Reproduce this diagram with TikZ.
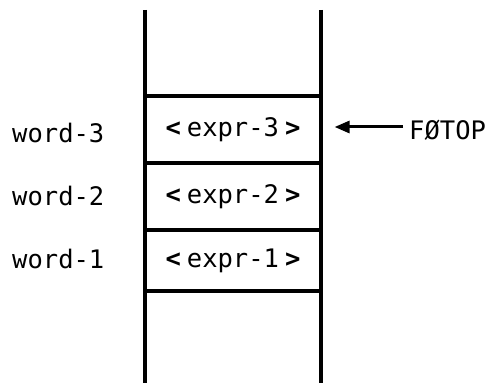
\documentclass[tikz,border=0pt]{standalone}
\usepackage{fontspec}
\newfontfamily\stackfont{DejaVu Sans Mono}
\usetikzlibrary{arrows.meta}
\begin{document}
\begin{tikzpicture}[x=1pt,y=1pt,
  every node/.style={font=\stackfont\fontsize{25.5}{30}\selectfont, inner sep=0pt},
  cell/.style={draw, line width=3.2pt, minimum width=176pt, anchor=center},
  rail/.style={line width=3.8pt},
  ptr/.style={line width=3pt, -{Triangle[length=15pt,width=12pt]}, shorten >=12pt, shorten <=6pt}]
\useasboundingbox (0,0) rectangle (491,383);
% stack cells
\node[cell, minimum height=67pt] (e3) at (233,253.5) {\textbf{<}\hspace{6pt}expr-3\hspace{6pt}\textbf{>}};
\node[cell, minimum height=67pt] (e2) at (233,186.5) {\textbf{<}\hspace{6pt}expr-2\hspace{6pt}\textbf{>}};
\node[cell, minimum height=61pt] (e1) at (233,122.5) {\textbf{<}\hspace{6pt}expr-1\hspace{6pt}\textbf{>}};
% side rails of the stack
\coordinate (lt) at (145,373);
\coordinate (lb) at (145,0);
\coordinate (rt) at (321,373);
\coordinate (rb) at (321,0);
\draw[rail] (lt) -- (lb);
\draw[rail] (rt) -- (rb);
% word labels
\node[anchor=west] (w3) at (12,250) {word-3};
\node[anchor=west] (w2) at (12,187) {word-2};
\node[anchor=west] (w1) at (12,124) {word-1};
% top-of-stack pointer
\node[anchor=west] (fotop) at (409,253) {FØTOP};
\draw[ptr] (fotop.west |- 0,256) -- (e3.east |- 0,256);
\end{tikzpicture}
\end{document}
